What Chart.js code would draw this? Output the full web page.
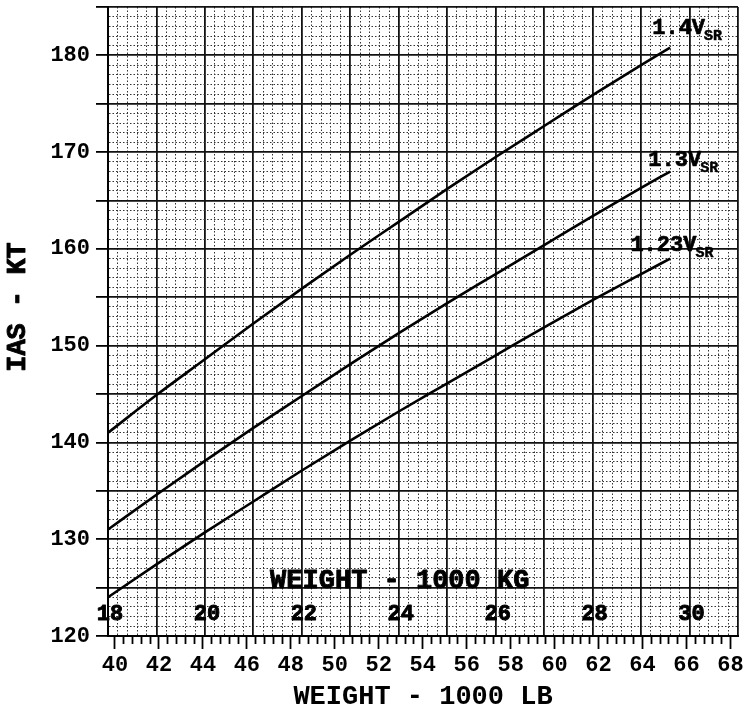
<!DOCTYPE html>
<html>
<head>
<meta charset="utf-8">
<script src="https://cdn.jsdelivr.net/npm/chart.js@4.4.0/dist/chart.umd.min.js"></script>
<style>
html, body { margin: 0; padding: 0; background: #fff; }
#wrap { width: 745px; height: 711px; }
</style>
</head>
<body>
<div id="wrap"><canvas id="mycanvas"></canvas></div>
<script>
// weight in 1000 kg, speeds in KT
var weightKg = [18, 19, 20, 21, 22, 23, 24, 25, 26, 27, 28, 29, 29.6];
var ias140 = [141.0, 144.9, 148.6, 152.3, 155.9, 159.4, 162.8, 166.2, 169.5, 172.7, 175.9, 179.0, 180.8];
var ias130 = [131.0, 134.6, 138.1, 141.5, 144.8, 148.1, 151.3, 154.4, 157.4, 160.4, 163.4, 166.3, 168.0];
var ias123 = [124.0, 127.4, 130.7, 133.9, 137.1, 140.2, 143.2, 146.1, 149.0, 151.9, 154.7, 157.4, 159.0];
var curveNames = ['1.4', '1.3', '1.23'];
var kgLabels = [18, 20, 22, 24, 26, 28, 30];
var ktLabels = [120, 130, 140, 150, 160, 170, 180];
var lbLabels = [40, 42, 44, 46, 48, 50, 52, 54, 56, 58, 60, 62, 64, 66, 68];

var LB_PER_KG = 2.20462;
var mono = "'Liberation Mono', 'DejaVu Sans Mono', monospace";
Chart.defaults.color = '#000';

function steps(a, b, s) {
  var out = [];
  var n = Math.round((b - a) / s);
  for (var i = 0; i <= n; i++) out.push({ value: Math.round((a + i * s) * 1000) / 1000 });
  return out;
}
function whole(v, m) {
  return Math.abs(v / m - Math.round(v / m)) < 1e-6;
}
function noPad(s) {
  s.paddingTop = 0; s.paddingBottom = 0; s.paddingLeft = 0; s.paddingRight = 0;
}

function pts(ys) {
  return weightKg.map(function (k, i) { return { x: k, y: ys[i] }; });
}

function line(name, ys) {
  return {
    label: name,
    data: pts(ys),
    borderColor: '#000',
    borderWidth: 2.6,
    pointRadius: 0,
    cubicInterpolationMode: 'monotone',
    xAxisID: 'x',
    yAxisID: 'y'
  };
}

// heavier text, the original is a fat typewriter face
function boldText(c, t, x, y, w) {
  c.lineWidth = w;
  c.strokeText(t, x, y);
  c.fillText(t, x, y);
}

var textPlugin = {
  id: 'texts',
  afterDatasetsDraw: function (chart) {
    var c = chart.ctx;
    var sx = chart.scales.x, sy = chart.scales.y;
    c.save();
    c.fillStyle = '#000';
    c.strokeStyle = '#000';
    c.lineJoin = 'round';
    // kg scale printed inside the plot
    c.font = 'bold 22px ' + mono;
    c.textAlign = 'center';
    c.textBaseline = 'middle';
    kgLabels.forEach(function (k) {
      boldText(c, String(k), sx.getPixelForValue(k) + 2, sy.getPixelForValue(122.2), 0.9);
    });
    c.font = 'bold 27px ' + mono;
    boldText(c, 'WEIGHT - 1000 KG', sx.getPixelForValue(24.02), sy.getPixelForValue(125.7), 0.9);

    // curve labels
    var spots = [[29.23, 182.2], [29.15, 168.6], [28.78, 159.8]];
    curveNames.forEach(function (n, i) {
      var x = sx.getPixelForValue(spots[i][0]);
      var y = sy.getPixelForValue(spots[i][1]);
      c.textAlign = 'left';
      c.textBaseline = 'alphabetic';
      c.font = 'bold 22px ' + mono;
      var t = n + 'V';
      boldText(c, t, x, y, 0.7);
      var w = c.measureText(t).width;
      c.font = 'bold 15px ' + mono;
      boldText(c, 'SR', x + w - 1, y + 6, 0.5);
    });

    // y title
    c.font = 'bold 27px ' + mono;
    c.translate(18, 307);
    c.rotate(-Math.PI / 2);
    c.textAlign = 'center';
    c.textBaseline = 'middle';
    boldText(c, 'IAS - KT', 0, 0, 0.9);
    c.restore();
  }
};

var ctx = document.getElementById('mycanvas');
var chart = new Chart(ctx, {
  type: 'line',
  data: {
    datasets: [
      line(curveNames[0], ias140),
      line(curveNames[1], ias130),
      line(curveNames[2], ias123)
    ]
  },
  plugins: [textPlugin],
  options: {
    responsive: true,
    maintainAspectRatio: false,
    animation: false,
    layout: { padding: { top: 7, right: 7, left: 0, bottom: 0 } },
    plugins: { legend: { display: false }, tooltip: { enabled: false } },
    scales: {
      x: {
        type: 'linear', position: 'top', min: 18, max: 31,
        afterBuildTicks: function (s) { s.ticks = steps(18, 31, 0.2); },
        afterFit: function (s) { s.height = 0; noPad(s); },
        ticks: { display: false },
        grid: {
          drawTicks: false,
          color: function (c) { return whole(c.tick.value, 1) ? '#111' : '#333'; },
          lineWidth: function (c) { return whole(c.tick.value, 1) ? 1.8 : 1; }
        },
        border: {
          display: false,
          dash: function (c) { return c.tick && !whole(c.tick.value, 1) ? [1.5, 2] : []; }
        }
      },
      lb: {
        type: 'linear', position: 'bottom',
        min: 18 * LB_PER_KG, max: 31 * LB_PER_KG,
        afterBuildTicks: function (s) { s.ticks = steps(lbLabels[0], lbLabels[lbLabels.length - 1], 0.4); },
        afterFit: function (s) { s.height = 75; noPad(s); },
        grid: {
          drawOnChartArea: false,
          tickLength: 13,
          tickWidth: 1.8,
          tickColor: '#000',
          tickBorderDash: function (c) { return whole(c.tick.value, 2) ? [] : [7, 30]; }
        },
        border: { display: true, color: '#000', width: 2 },
        ticks: {
          autoSkip: false, maxRotation: 0, padding: 3,
          font: { family: mono, size: 22, weight: 'bold' },
          callback: function (v) { return whole(v, 2) ? String(Math.round(v)) : ''; }
        },
        title: {
          display: true, text: 'WEIGHT - 1000 LB',
          font: { family: mono, size: 27, weight: 'bold' },
          padding: { top: 0, bottom: -2 }
        }
      },
      y: {
        type: 'linear', position: 'left', min: 120, max: 185,
        afterBuildTicks: function (s) { s.ticks = steps(120, 185, 1); },
        afterFit: function (s) { s.width = 108; noPad(s); },
        grid: {
          color: function (c) { return whole(c.tick.value, 5) ? '#111' : '#333'; },
          lineWidth: function (c) { return whole(c.tick.value, 5) ? 1.8 : 1; },
          tickLength: 12,
          tickWidth: 1.8,
          tickColor: function (c) { return whole(c.tick.value, 5) ? '#000' : 'rgba(0,0,0,0)'; }
        },
        border: {
          display: true, color: '#000', width: 2,
          dash: function (c) { return c.tick && !whole(c.tick.value, 5) ? [1.5, 2] : []; }
        },
        ticks: {
          autoSkip: false, padding: 6,
          font: { family: mono, size: 22, weight: 'bold' },
          callback: function (v) { return ktLabels.indexOf(Math.round(v)) >= 0 && whole(v, 10) ? String(Math.round(v)) : ''; }
        }
      }
    }
  }
});
</script>
</body>
</html>
